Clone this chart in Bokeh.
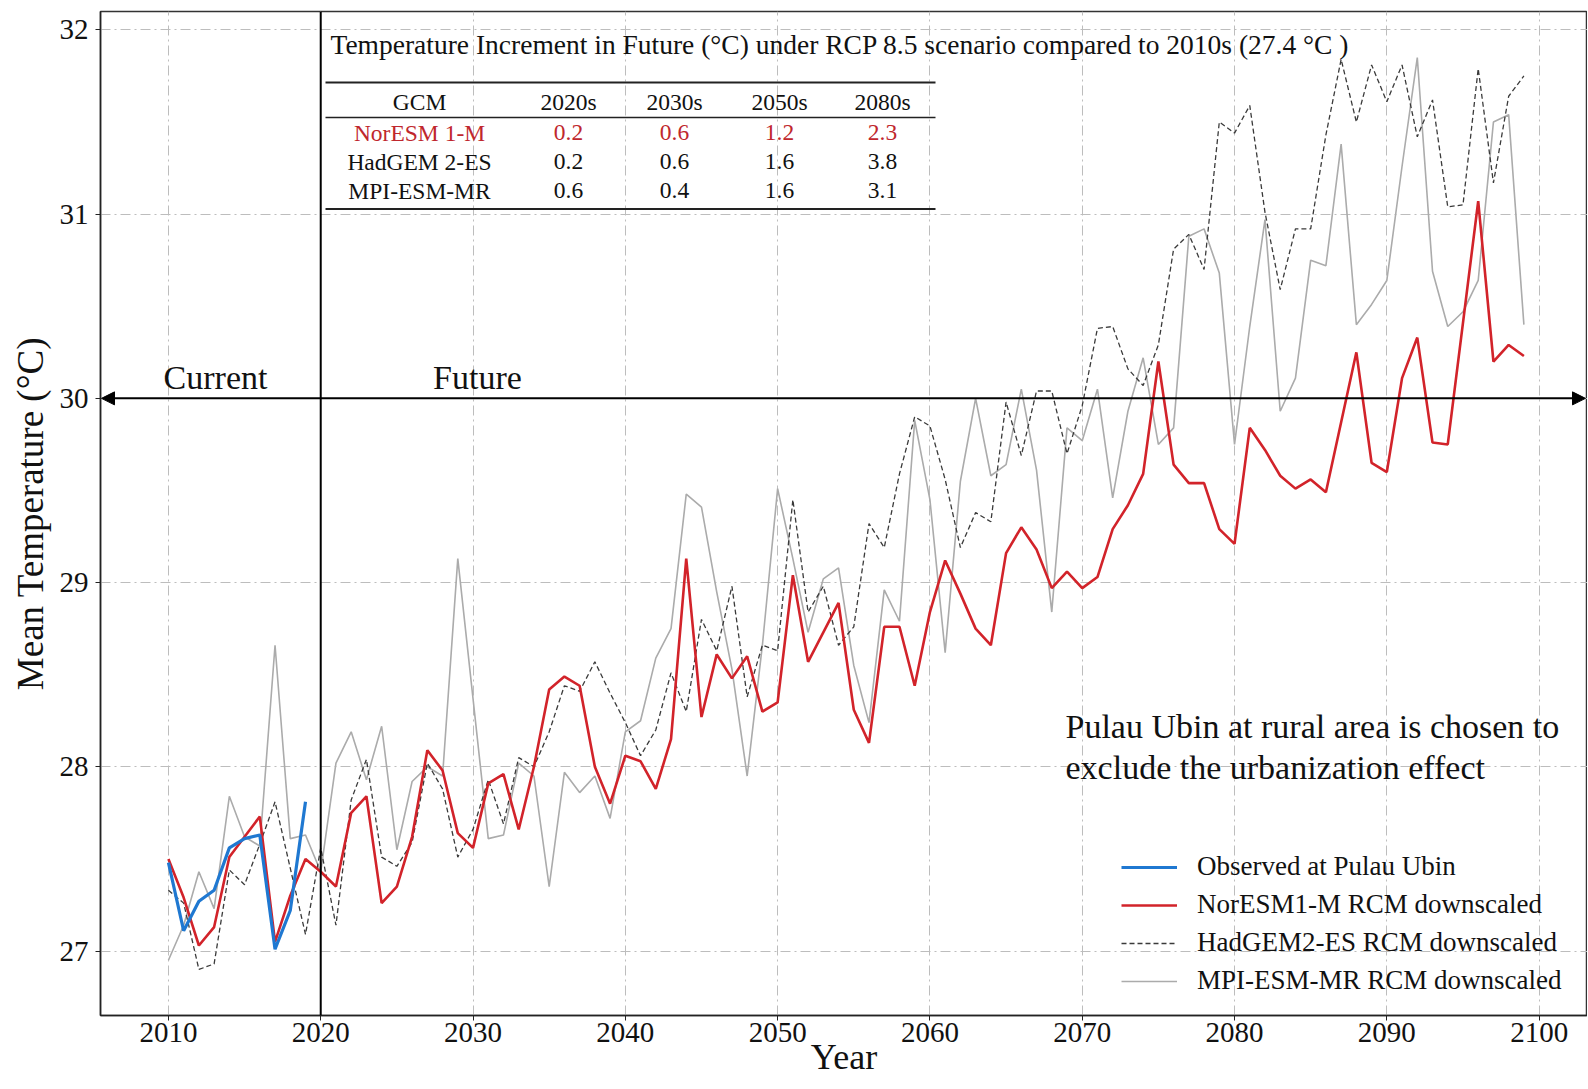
from bokeh.plotting import figure
from bokeh.models import (Range1d, Span, Arrow, NormalHead, Label, Legend, LegendItem,
                          ColumnDataSource, FixedTicker)
from bokeh.core.properties import value
from bokeh.embed import file_html
from bokeh.resources import INLINE

# ---------------- data ----------------
years = list(range(2010, 2100))
obs_years = list(range(2010, 2020))

observed = [27.48, 27.11, 27.27, 27.33, 27.56, 27.61, 27.63, 27.01, 27.22, 27.81]

noresm = [27.50, 27.29, 27.03, 27.13, 27.51, 27.62, 27.73, 27.05, 27.30, 27.50,
          27.43, 27.35, 27.75, 27.84, 27.26, 27.35, 27.62, 28.09, 27.98, 27.64,
          27.56, 27.91, 27.96, 27.66, 28.00, 28.42, 28.49, 28.44, 28.00, 27.80,
          28.06, 28.03, 27.88, 28.15, 29.13, 28.27, 28.61, 28.48, 28.60, 28.30,
          28.35, 29.04, 28.57, 28.73, 28.89, 28.31, 28.13, 28.76, 28.76, 28.44,
          28.84, 29.12, 28.94, 28.75, 28.66, 29.16, 29.30, 29.18, 28.97, 29.06,
          28.97, 29.03, 29.29, 29.42, 29.59, 30.20, 29.64, 29.54, 29.54, 29.29,
          29.21, 29.84, 29.72, 29.58, 29.51, 29.56, 29.49, 29.87, 30.25, 29.65,
          29.60, 30.11, 30.33, 29.76, 29.75, 30.41, 31.07, 30.20, 30.29, 30.23]

hadgem = [27.33, 27.26, 26.90, 26.93, 27.44, 27.36, 27.58, 27.81, 27.45, 27.09,
          27.56, 27.14, 27.82, 28.04, 27.51, 27.46, 27.59, 28.02, 27.88, 27.51,
          27.66, 27.93, 27.69, 28.05, 28.00, 28.19, 28.44, 28.41, 28.57, 28.40,
          28.24, 28.06, 28.20, 28.51, 28.30, 28.80, 28.63, 28.98, 28.38, 28.66,
          28.63, 29.45, 28.84, 28.98, 28.66, 28.76, 29.32, 29.19, 29.59, 29.90,
          29.85, 29.56, 29.19, 29.38, 29.33, 29.98, 29.69, 30.04, 30.04, 29.70,
          29.96, 30.38, 30.39, 30.16, 30.07, 30.29, 30.81, 30.89, 30.70, 31.50,
          31.44, 31.59, 31.01, 30.59, 30.92, 30.92, 31.43, 31.84, 31.50, 31.81,
          31.61, 31.81, 31.42, 31.62, 31.04, 31.05, 31.79, 31.17, 31.64, 31.75]

mpi = [26.95, 27.14, 27.43, 27.23, 27.84, 27.62, 27.57, 28.66, 27.61, 27.63,
       27.43, 28.02, 28.19, 27.93, 28.22, 27.55, 27.92, 28.00, 27.95, 29.13,
       28.37, 27.61, 27.63, 28.02, 27.95, 27.35, 27.97, 27.86, 27.95, 27.72,
       28.19, 28.25, 28.59, 28.75, 29.48, 29.41, 28.95, 28.53, 27.95, 28.66,
       29.51, 29.13, 28.73, 29.02, 29.08, 28.55, 28.24, 28.96, 28.79, 29.88,
       29.45, 28.62, 29.55, 30.00, 29.58, 29.64, 30.05, 29.61, 28.84, 29.84,
       29.77, 30.05, 29.46, 29.93, 30.22, 29.75, 29.84, 30.88, 30.92, 30.68,
       29.75, 30.39, 30.97, 29.93, 30.11, 30.75, 30.72, 31.38, 30.40, 30.51,
       30.64, 31.26, 31.85, 30.69, 30.39, 30.47, 30.64, 31.50, 31.54, 30.40]

x_ticks = [2010, 2020, 2030, 2040, 2050, 2060, 2070, 2080, 2090, 2100]
y_ticks = [27, 28, 29, 30, 31, 32]

table_title = "Temperature Increment in Future (°C) under RCP 8.5 scenario compared to 2010s (27.4 °C )"
table_header = ["GCM", "2020s", "2030s", "2050s", "2080s"]
gcm_names = ["NorESM 1-M", "HadGEM 2-ES", "MPI-ESM-MR"]
inc_noresm = ["0.2", "0.6", "1.2", "2.3"]
inc_hadgem = ["0.2", "0.6", "1.6", "3.8"]
inc_mpi = ["0.6", "0.4", "1.6", "3.1"]

legend_labels = ["Observed at Pulau Ubin", "NorESM1-M RCM downscaled",
                 "HadGEM2-ES RCM downscaled", "MPI-ESM-MR RCM downscaled"]

# ---------------- layout helpers (page pixels -> data) ----------------
FL, FR, FT, FB = 101.0, 1588.0, 12.0, 1016.0      # frame edges on the page
PX_PER_YEAR = 15.23
X0 = 2005.54
X1 = X0 + (FR - FL) / PX_PER_YEAR
Y0, Y1 = 26.65, 32.10
OFFSET = 1          # observed offset of the canvas on the page
W = int(FR) - OFFSET
H = 1089 - OFFSET


def dx(px):
    return X0 + (px - FL) / (FR - FL) * (X1 - X0)


def dy(py):
    return Y1 - (py - FT) / (FB - FT) * (Y1 - Y0)


FONT = "Liberation Serif"

p = figure(width=W, height=H,
           x_range=Range1d(X0, X1), y_range=Range1d(Y0, Y1),
           output_backend="svg", toolbar_location=None,
           min_border_left=int(FL) - OFFSET, min_border_right=0,
           min_border_top=int(FT) - OFFSET,
           min_border_bottom=OFFSET + H - int(FB),
           background_fill_color="white", border_fill_color="white")

p.outline_line_color = "#333333"
p.outline_line_width = 1.5

for ax in (p.xaxis[0], p.yaxis[0]):
    ax.axis_line_color = "#222222"
    ax.axis_line_width = 1.5
    ax.major_tick_out = 5
    ax.major_tick_in = 0
    ax.minor_tick_line_color = None
    ax.major_tick_line_color = "#222222"
    ax.major_label_text_font = FONT
    ax.major_label_text_font_size = "29px"
    ax.major_label_text_color = "#111111"
    ax.axis_label_text_font = FONT
    ax.axis_label_text_font_style = "normal"
    ax.axis_label_text_color = "#111111"

p.xaxis.ticker = FixedTicker(ticks=x_ticks)
p.yaxis.ticker = FixedTicker(ticks=y_ticks)
p.yaxis.axis_label = "Mean Temperature (°C)"
p.yaxis.axis_label_text_font_size = "37px"
p.xaxis.axis_label = "Year"
p.xaxis.axis_label_text_font_size = "36px"
p.xaxis.major_label_standoff = 2
p.xaxis.axis_label_standoff = -8
p.yaxis.major_label_standoff = 7
p.yaxis.axis_label_standoff = 6

for g in (p.xgrid[0], p.ygrid[0]):
    g.grid_line_color = "#bdbdbd"
    g.grid_line_width = 1
    g.grid_line_dash = "10 4 2 4"

# ---------------- series ----------------
r_mpi = p.line(years, mpi, line_color="#ababab", line_width=1.6)
r_had = p.line(years, hadgem, line_color="#3a3a3a", line_width=1.3, line_dash="5 3")
r_nor = p.line(years, noresm, line_color="#d2232a", line_width=2.6)
r_obs = p.line(obs_years, observed, line_color="#1f78d1", line_width=3.2)

# ---------------- reference lines ----------------
p.add_layout(Span(location=2020, dimension="height", line_color="black", line_width=2))
p.add_layout(Arrow(x_start=dx(FL + 1), y_start=30, x_end=dx(1586), y_end=30,
                   line_color="black", line_width=2,
                   start=NormalHead(size=13, fill_color="black", line_color="black"),
                   end=NormalHead(size=13, fill_color="black", line_color="black")))

for txt, px, py in [("Current", 216, 378), ("Future", 478, 378)]:
    p.add_layout(Label(x=dx(px), y=dy(py), text=txt, text_font=FONT, text_font_size="34px",
                       text_align="center", text_baseline="middle", text_color="#111111"))

p.add_layout(Label(x=dx(1066), y=dy(727), text="Pulau Ubin at rural area is chosen to",
                   text_font=FONT, text_font_size="34px", text_baseline="middle",
                   text_color="#111111"))
p.add_layout(Label(x=dx(1066), y=dy(768), text="exclude the urbanization effect",
                   text_font=FONT, text_font_size="34px", text_baseline="middle",
                   text_color="#111111"))

# ---------------- inset table ----------------
p.add_layout(Label(x=dx(331), y=dy(45), text=table_title, text_font=FONT,
                   text_font_size="27.5px", text_baseline="middle", text_color="#111111"))

rule_src = ColumnDataSource(dict(x0=[dx(326)] * 3, x1=[dx(936)] * 3,
                                 y=[dy(83), dy(118), dy(209.5)], w=[2.2, 1.3, 2.2]))
p.segment(x0="x0", y0="y", x1="x1", y1="y", line_width="w", line_color="#222222", source=rule_src)

col_x = [dx(v) for v in (420, 569, 675, 780, 883)]
row_y = [dy(v) for v in (102, 133, 162, 191)]
cells_x, cells_y, cells_t, cells_c = [], [], [], []
rows = [table_header,
        [gcm_names[0]] + inc_noresm,
        [gcm_names[1]] + inc_hadgem,
        [gcm_names[2]] + inc_mpi]
colors = ["#111111", "#c0272d", "#111111", "#111111"]
for ri, row in enumerate(rows):
    for ci, t in enumerate(row):
        cells_x.append(col_x[ci])
        cells_y.append(row_y[ri])
        cells_t.append(t)
        cells_c.append(colors[ri])
p.text(x="x", y="y", text="t", text_color="c",
       source=ColumnDataSource(dict(x=cells_x, y=cells_y, t=cells_t, c=cells_c)),
       text_font=value(FONT), text_font_size="23.5px", text_align="center",
       text_baseline="middle")

# ---------------- legend ----------------
legend = Legend(items=[LegendItem(label=legend_labels[0], renderers=[r_obs]),
                       LegendItem(label=legend_labels[1], renderers=[r_nor]),
                       LegendItem(label=legend_labels[2], renderers=[r_had]),
                       LegendItem(label=legend_labels[3], renderers=[r_mpi])],
                location=(1021, 19), padding=0, margin=0, spacing=7,
                glyph_width=56, glyph_height=30, label_height=30, label_standoff=20,
                label_text_font=FONT, label_text_font_size="27px",
                label_text_color="#111111", border_line_alpha=0,
                background_fill_alpha=0)
p.add_layout(legend)

open("out.html", "w").write(file_html(p, INLINE))
